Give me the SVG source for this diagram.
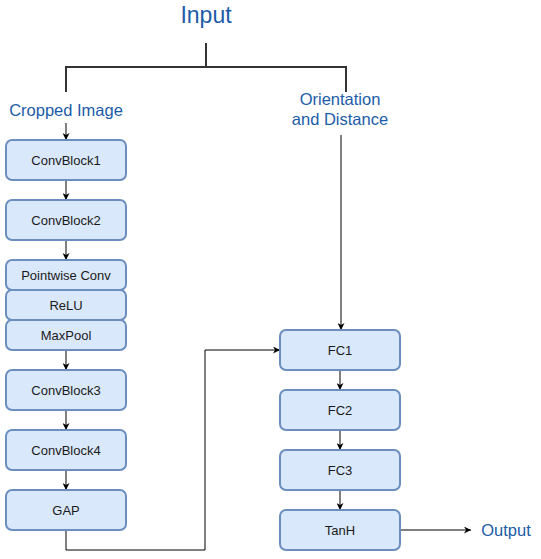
<svg xmlns="http://www.w3.org/2000/svg" width="541" height="559" viewBox="0 0 541 559">
<style>
.box{fill:#dae8fc;stroke:#6c8ebf;stroke-width:2}
.lbl{font-family:"Liberation Sans",Arial,sans-serif;font-size:13px;fill:#1a1a1a;text-anchor:middle;dominant-baseline:central}
.blue{font-family:"Liberation Sans",Arial,sans-serif;fill:#1c5ca8;text-anchor:middle}
.edge{fill:none;stroke:#000;stroke-width:1}
.br{fill:none;stroke:#333;stroke-width:2}
</style>
<defs>
<marker id="ah" viewBox="0 0 10 10" refX="10" refY="5" markerWidth="7" markerHeight="7" orient="auto" markerUnits="userSpaceOnUse">
<path d="M0,0 L10,5 L0,10 L3,5 Z" fill="#000"/>
</marker>
</defs>
<g id="labels">
<text class="blue" x="206" y="23" font-size="23">Input</text>
<text class="blue" x="66" y="116" font-size="16.5">Cropped Image</text>
<text class="blue" x="340" y="105" font-size="16.5">Orientation</text>
<text class="blue" x="340" y="125" font-size="16.5">and Distance</text>
<text class="blue" x="506" y="536" font-size="16.5">Output</text>
</g>
<g id="connectors">
<path class="br" d="M206,43 V67 M66,92 V67 H346 V92"/>
<path class="edge" d="M66,123 V140" marker-end="url(#ah)"/>
<path class="edge" d="M66,180 V200" marker-end="url(#ah)"/>
<path class="edge" d="M66,240 V260" marker-end="url(#ah)"/>
<path class="edge" d="M66,350 V370" marker-end="url(#ah)"/>
<path class="edge" d="M66,410 V430" marker-end="url(#ah)"/>
<path class="edge" d="M66,470 V490" marker-end="url(#ah)"/>
<path class="edge" d="M66,530 V550 H205 V350 H280" marker-end="url(#ah)"/>
<path class="edge" d="M341,135 V330" marker-end="url(#ah)"/>
<path class="edge" d="M340,370 V390" marker-end="url(#ah)"/>
<path class="edge" d="M340,430 V450" marker-end="url(#ah)"/>
<path class="edge" d="M340,490 V510" marker-end="url(#ah)"/>
<path class="edge" d="M400,530 H471" marker-end="url(#ah)"/>
</g>
<g id="convblock1"><rect class="box" x="6" y="140" width="120" height="40" rx="6"/><text class="lbl" x="66" y="160">ConvBlock1</text></g>
<g id="convblock2"><rect class="box" x="6" y="200" width="120" height="40" rx="6"/><text class="lbl" x="66" y="220">ConvBlock2</text></g>
<g id="pointwise"><rect class="box" x="6" y="260" width="120" height="30" rx="6"/><text class="lbl" x="66" y="275">Pointwise Conv</text></g>
<g id="relu"><rect class="box" x="6" y="290" width="120" height="30" rx="6"/><text class="lbl" x="66" y="305">ReLU</text></g>
<g id="maxpool"><rect class="box" x="6" y="320" width="120" height="30" rx="6"/><text class="lbl" x="66" y="335">MaxPool</text></g>
<g id="convblock3"><rect class="box" x="6" y="370" width="120" height="40" rx="6"/><text class="lbl" x="66" y="390">ConvBlock3</text></g>
<g id="convblock4"><rect class="box" x="6" y="430" width="120" height="40" rx="6"/><text class="lbl" x="66" y="450">ConvBlock4</text></g>
<g id="gap"><rect class="box" x="6" y="490" width="120" height="40" rx="6"/><text class="lbl" x="66" y="510">GAP</text></g>
<g id="fc1"><rect class="box" x="280" y="330" width="120" height="40" rx="6"/><text class="lbl" x="340" y="350">FC1</text></g>
<g id="fc2"><rect class="box" x="280" y="390" width="120" height="40" rx="6"/><text class="lbl" x="340" y="410">FC2</text></g>
<g id="fc3"><rect class="box" x="280" y="450" width="120" height="40" rx="6"/><text class="lbl" x="340" y="470">FC3</text></g>
<g id="tanh"><rect class="box" x="280" y="510" width="120" height="40" rx="6"/><text class="lbl" x="340" y="530">TanH</text></g>
</svg>
